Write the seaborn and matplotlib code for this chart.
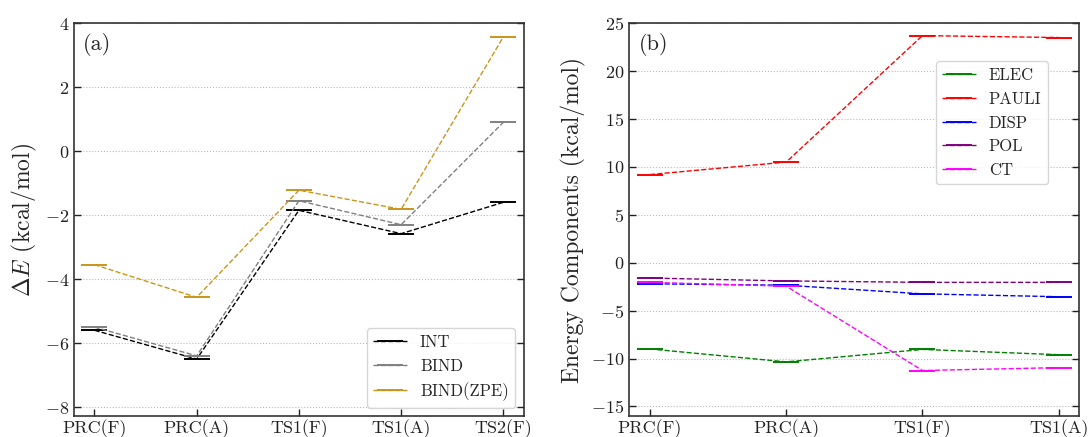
import numpy as np
import pandas as pd
import matplotlib
matplotlib.use("Agg")
import matplotlib.pyplot as plt
import seaborn as sns

# panel (a): relative energies along the path
states_a = ["PRC(F)", "PRC(A)", "TS1(F)", "TS1(A)", "TS2(F)"]
int_e = [-5.60, -6.50, -1.85, -2.58, -1.60]
bind_e = [-5.50, -6.40, -1.55, -2.30, 0.90]
bind_zpe = [-3.55, -4.57, -1.22, -1.82, 3.57]

# panel (b): energy decomposition
states_b = ["PRC(F)", "PRC(A)", "TS1(F)", "TS1(A)"]
elec = [-9.00, -10.35, -9.05, -9.60]
pauli = [9.20, 10.50, 23.70, 23.50]
disp = [-2.20, -2.35, -3.25, -3.55]
pol = [-1.60, -1.90, -2.05, -2.05]
ct = [-2.05, -2.45, -11.25, -10.95]

sns.set_style("ticks")
plt.rcParams["font.family"] = "serif"
plt.rcParams["font.serif"] = ["cmr10"]
plt.rcParams["mathtext.fontset"] = "cm"
plt.rcParams["axes.formatter.use_mathtext"] = True
plt.rcParams["axes.edgecolor"] = "#333333"
plt.rcParams["axes.linewidth"] = 1.2

fig, (ax1, ax2) = plt.subplots(1, 2, figsize=(10.89, 4.37), dpi=100)
fig.subplots_adjust(left=0.068, right=0.991, top=0.947, bottom=0.048, wspace=0.235)


def levels(ax, states, series):
    x = np.arange(len(states))
    for name, vals, col in series:
        sns.lineplot(x=x, y=vals, ax=ax, color=col, label=name, linestyle="--",
                     linewidth=1.0, marker="_", markersize=19, mew=1.4,
                     markeredgecolor=col, markerfacecolor=col, sort=False)
    ax.set_xticks(x)
    ax.set_xticklabels(states)
    ax.grid(axis="y", linestyle=":", color="#bbbbbb", linewidth=0.8)
    ax.set_axisbelow(True)
    ax.tick_params(direction="in", length=5, width=1.0, right=True, labelsize=13,
                   colors="#222222")
    ax.tick_params(axis="x", pad=2.5)


levels(ax1, states_a, [("INT", int_e, "black"),
                       ("BIND", bind_e, "gray"),
                       ("BIND(ZPE)", bind_zpe, "#c9961a")])
ax1.set_ylim(-8.28, 4)
ax1.set_yticks(np.arange(-8, 5, 2))
ax1.set_ylabel(r"$\Delta E$ (kcal/mol)", fontsize=17)
ax1.text(0.02, 0.975, "(a)", transform=ax1.transAxes, fontsize=16, va="top")
ax1.legend(loc="lower right", fontsize=12, handlelength=2.0, framealpha=0.8)

levels(ax2, states_b, [("ELEC", elec, "green"),
                       ("PAULI", pauli, "red"),
                       ("DISP", disp, "blue"),
                       ("POL", pol, "purple"),
                       ("CT", ct, "magenta")])
ax2.set_ylim(-16, 25)
ax2.set_yticks(np.arange(-15, 26, 5))
ax2.set_ylabel("Energy Components (kcal/mol)", fontsize=17)
ax2.text(0.02, 0.975, "(b)", transform=ax2.transAxes, fontsize=16, va="top")
ax2.legend(loc="upper right", bbox_to_anchor=(0.931, 0.903), borderaxespad=0,
           fontsize=12, handlelength=2.0, framealpha=0.8)

fig.savefig("out.png", dpi=100)
